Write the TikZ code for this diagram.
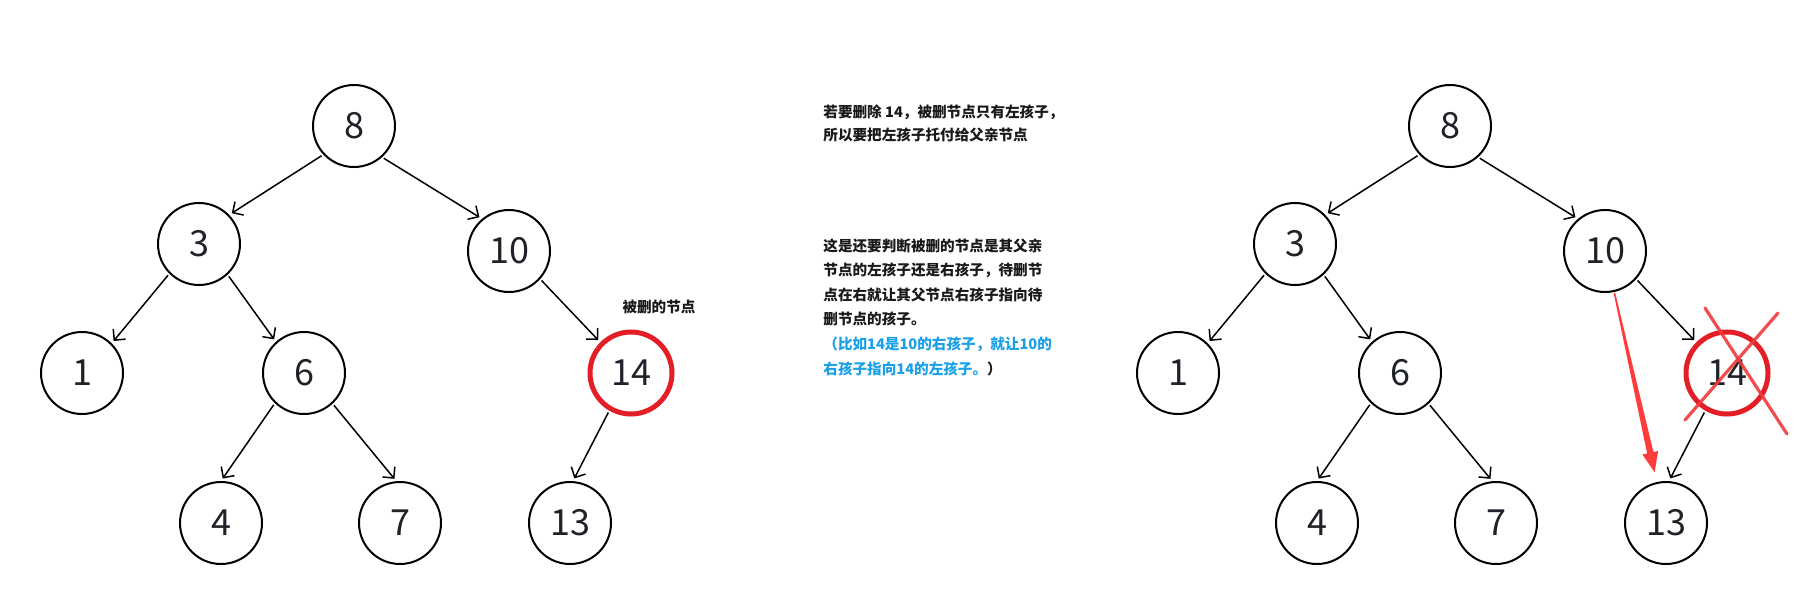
\documentclass[tikz,border=0pt]{standalone}
\usepackage{fontspec}
\usepackage{xcolor}
\usepackage{tikz}
\usetikzlibrary{positioning, calc, arrows.meta}
\newfontfamily\cjk{Noto Sans CJK SC}
\definecolor{inkgray}{HTML}{1F2329}
\definecolor{notegray}{HTML}{1A1A1A}
\definecolor{delred}{HTML}{E41E26}
\definecolor{crossred}{HTML}{F03A3C}
\definecolor{movered}{HTML}{FF3B3B}
\definecolor{hintblue}{HTML}{1AA0E8}

\begin{document}
\begin{tikzpicture}[x=0.5pt, y=-0.5pt,
    treenode/.style={circle, draw, line width=1pt, minimum size=41pt, inner sep=0pt,
      font=\cjk\fontsize{18}{18}\selectfont, text=inkgray},
    delnode/.style={treenode, draw=delred, line width=2.5pt},
    edge/.style={-{Straight Barb[length=4pt,width=8pt]}, line width=0.75pt,
      shorten <=1pt, shorten >=1.5pt},
    note/.style={font=\cjk\bfseries\fontsize{7.3}{11.5}\selectfont, text=notegray,
      align=left, inner sep=0pt},
    cross/.style={crossred, line width=1.6pt, line cap=round, opacity=0.9}]
  \fill[white] (0,0) rectangle (1814,615);
  \useasboundingbox (0,0) rectangle (1814,615);

  % the same tree twice, the right one shifted
  \foreach \s/\t in {0/l, 1096/r} {
    \node[treenode] (\t8) at (354+\s,126) {8};
    \node[treenode] (\t3) at (199+\s,244) {3};
    \node[treenode] (\t10) at (509+\s,251) {10};
    \node[treenode] (\t1) at (82+\s,373) {1};
    \node[treenode] (\t6) at (304+\s,373) {6};
    \node[delnode] (\t14) at (631+\s,373) {14};
    \node[treenode] (\t4) at (221+\s,523) {4};
    \node[treenode] (\t7) at (400+\s,523) {7};
    \node[treenode] (\t13) at (570+\s,523) {13};
  }
  \foreach \t in {l, r} {
    \foreach \a/\pa/\b/\ba in {8/-137/3/44, 8/-48/10/130, 3/-135/1/45, 3/-47/6/132,
                               6/-134/4/90, 6/-47/7/95, 10/-42/14/135, 14/-120/13/86}
      \draw[edge] (\t\a.\pa) -- (\t\b.\ba);
  }

  \node[note] (dellabel) at (659,307) {被删的节点};

  \node[note, anchor=north west] (tipdel) at (823,104)
    {若要删除 14，被删节点只有左孩子，\\所以要把左孩子托付给父亲节点};
  \node[note, anchor=north west, font=\cjk\bfseries\fontsize{7.3}{12.3}\selectfont]
    (tipside) at (823,238)
    {这是还要判断被删的节点是其父亲\\节点的左孩子还是右孩子，待删节\\点在右就让其父节点右孩子指向待\\删节点的孩子。\\
     \textcolor{hintblue}{（比如14是10的右孩子，就让10的}\\
     \textcolor{hintblue}{右孩子指向14的左孩子。}）};

  % crossed out node and the new link
  \draw[cross] ($(r14)+(-22,-65)$) -- ($(r14)+(60,61)$);
  \draw[cross] ($(r14)+(51,-60)$) -- ($(r14)+(-42,47)$);
  \coordinate (arrS) at ($(r10)!21.5pt!(r13)$);
  \coordinate (arrT) at ($(r13)!26pt!(r10)$);
  \coordinate (arrH) at ($(arrT)!10pt!(arrS)$);
  \fill[movered] ($(arrS)!0.4pt!90:(arrT)$) -- ($(arrH)!1.6pt!-90:(arrS)$)
    -- ($(arrH)!4pt!-90:(arrS)$) -- (arrT) -- ($(arrH)!4pt!90:(arrS)$)
    -- ($(arrH)!1.6pt!90:(arrS)$) -- ($(arrS)!0.4pt!-90:(arrT)$) -- cycle;
\end{tikzpicture}
\end{document}
